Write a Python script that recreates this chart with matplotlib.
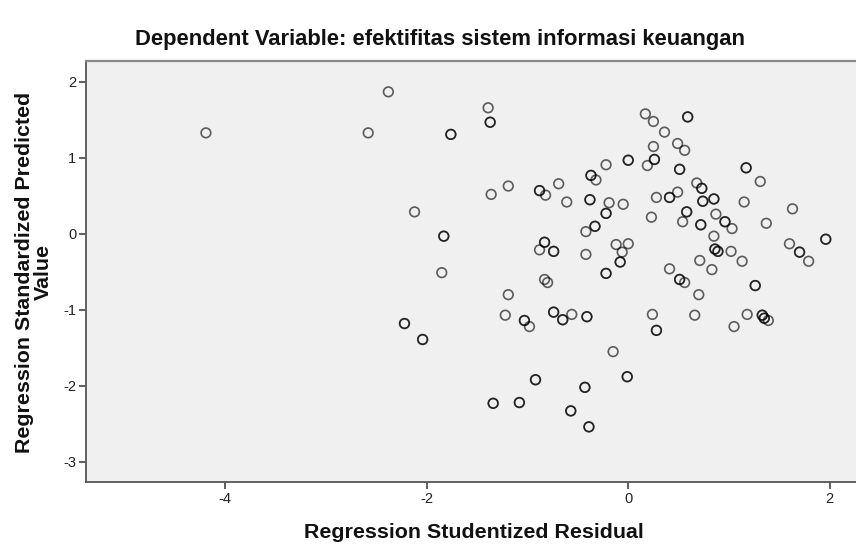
import matplotlib
matplotlib.use("Agg")
import matplotlib.pyplot as plt

plt.rcParams['font.family'] = ['Liberation Sans', 'DejaVu Sans']

title = "Dependent Variable: efektifitas sistem informasi keuangan"
xlabel = "Regression Studentized Residual"
ylabel = "Regression Standardized Predicted\nValue"
xticks = [-4, -2, 0, 2]
yticks = [-3, -2, -1, 0, 1, 2]

# (residual, predicted); darker circles are repeated points
points = [
    (-4.19, 1.33), (-2.38, 1.87), (-2.58, 1.33), (-1.76, 1.31), (-1.76, 1.31),
    (-1.39, 1.66), (-1.37, 1.47), (-1.37, 1.47), (-2.12, 0.29),
    (-1.83, -0.03), (-1.83, -0.03), (-1.85, -0.51), (-1.36, 0.52), (-1.19, 0.63),
    (-0.88, 0.57), (-0.88, 0.57), (-0.82, 0.51), (-0.69, 0.66), (-0.61, 0.42),
    (-0.37, 0.77), (-0.37, 0.77), (-0.32, 0.71), (-0.38, 0.45), (-0.38, 0.45),
    (-0.83, -0.11), (-0.83, -0.11), (-0.88, -0.21), (-0.74, -0.23), (-0.74, -0.23),
    (-0.42, 0.03), (-0.42, -0.27), (-0.83, -0.60), (-0.80, -0.64),
    (-0.33, 0.10), (-0.33, 0.10), (-0.22, 0.91), (-0.19, 0.41), (-0.05, 0.39),
    (-0.22, 0.27), (-0.22, 0.27), (0.0, 0.97), (0.0, 0.97), (0.17, 1.58),
    (0.25, 1.48), (0.59, 1.54), (0.59, 1.54), (0.36, 1.34), (0.25, 1.15),
    (0.49, 1.19), (0.56, 1.10), (0.26, 0.98), (0.26, 0.98), (0.19, 0.90),
    (0.51, 0.85), (0.51, 0.85), (1.17, 0.87), (1.17, 0.87), (1.31, 0.69),
    (0.68, 0.67), (0.73, 0.60), (0.73, 0.60), (0.49, 0.55), (0.41, 0.48),
    (0.41, 0.48), (0.28, 0.48), (0.74, 0.43), (0.74, 0.43), (0.85, 0.46),
    (0.85, 0.46), (1.15, 0.42), (1.63, 0.33), (0.23, 0.22), (0.58, 0.29),
    (0.58, 0.29), (0.54, 0.16), (0.87, 0.26), (0.72, 0.12), (0.72, 0.12),
    (0.96, 0.16), (0.96, 0.16), (1.03, 0.07), (1.37, 0.14), (0.85, -0.03),
    (-0.12, -0.14), (0.0, -0.13), (-0.06, -0.24), (-0.08, -0.37), (-0.08, -0.37),
    (-0.22, -0.52), (-0.22, -0.52), (0.86, -0.20), (0.86, -0.20), (0.89, -0.23),
    (0.89, -0.23), (1.02, -0.23), (0.71, -0.35), (0.83, -0.47), (1.13, -0.36),
    (1.60, -0.13), (1.70, -0.24), (1.70, -0.24), (1.79, -0.36), (1.96, -0.07),
    (1.96, -0.07), (0.41, -0.46), (0.51, -0.60), (0.51, -0.60), (0.56, -0.64),
    (0.70, -0.80), (1.26, -0.68), (1.26, -0.68), (-0.41, -1.09), (-0.41, -1.09),
    (0.24, -1.06), (0.28, -1.27), (0.28, -1.27), (0.66, -1.07), (1.05, -1.22),
    (1.18, -1.06), (1.33, -1.07), (1.33, -1.07), (1.35, -1.11), (1.35, -1.11),
    (1.39, -1.14), (-0.15, -1.55), (-0.01, -1.88), (-0.01, -1.88),
    (-0.43, -2.02), (-0.43, -2.02), (-0.39, -2.54), (-0.39, -2.54),
    (-1.19, -0.80), (-1.22, -1.07), (-1.03, -1.14), (-1.03, -1.14), (-0.98, -1.22),
    (-2.22, -1.18), (-2.22, -1.18), (-2.04, -1.39), (-2.04, -1.39),
    (-0.74, -1.03), (-0.74, -1.03), (-0.65, -1.13), (-0.65, -1.13), (-0.56, -1.06),
    (-0.92, -1.92), (-0.92, -1.92), (-1.34, -2.23), (-1.34, -2.23),
    (-1.08, -2.22), (-1.08, -2.22), (-0.57, -2.33), (-0.57, -2.33),
]
resid = [p[0] for p in points]
pred = [p[1] for p in points]

fig = plt.figure(figsize=(8.56, 5.5), dpi=100)
ax = fig.add_axes([86/856, 1-482.3/550, 1-86/856, (482.3-60.7)/550])
ax.set_facecolor('#F0F0F0')

ax.scatter(resid, pred, s=48, facecolors='none', edgecolors='black',
           linewidths=1.2, alpha=0.62, zorder=3)

ax.set_xlim(-5.38, 2.26)
ax.set_ylim(-3.27, 2.28)
ax.set_xticks(xticks)
ax.set_xticklabels([str(t) for t in xticks])
ax.set_yticks(yticks)
ax.set_yticklabels([str(t) for t in yticks])

for s in ['left', 'bottom']:
    ax.spines[s].set_color('#555555')
    ax.spines[s].set_linewidth(1.3)
ax.spines['top'].set_color('#888888')
ax.spines['top'].set_linewidth(1.6)
ax.spines['right'].set_visible(False)

ax.tick_params(axis='both', direction='out', length=5, width=1.1, color='#333333',
               labelsize=10.5, labelcolor='#222222', pad=2)

fig.text(440/856, 1-40/550, title, ha='center', va='center', fontsize=15.8,
         fontweight='bold', color='#111111')
fig.text(474/856, 1-532/550, xlabel, ha='center', va='center', fontsize=15.4,
         fontweight='bold', color='#111111')
fig.text(34/856, 1-272/550, ylabel, ha='center', va='center', fontsize=15.4,
         fontweight='bold', rotation=90, color='#111111', linespacing=0.95)

fig.savefig('out.png', dpi=100)
